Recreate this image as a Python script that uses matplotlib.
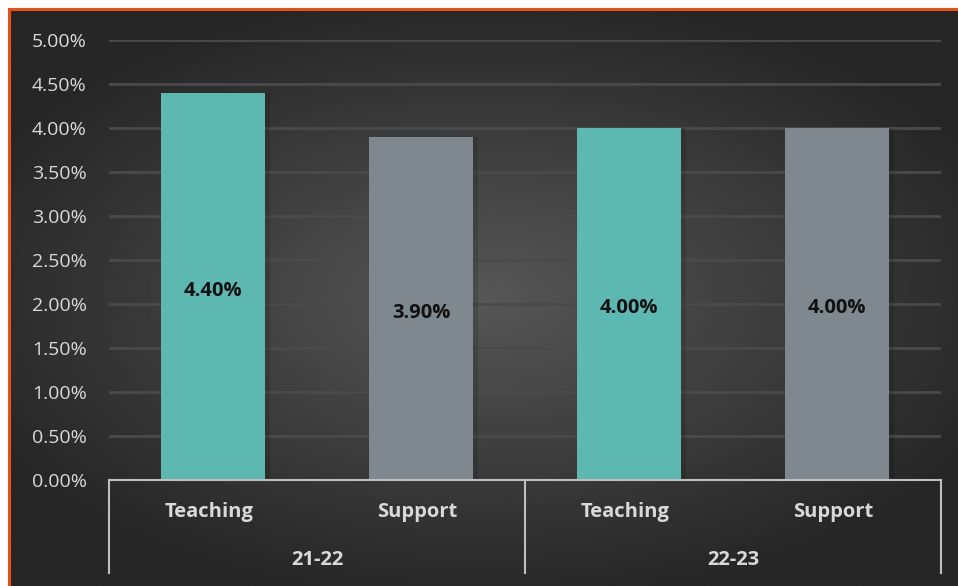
import numpy as np
import matplotlib.pyplot as plt
import matplotlib.transforms as mtransforms
from matplotlib.lines import Line2D

years = ['21-22', '22-23']
staff = ['Teaching', 'Support']
rises = [4.40, 3.90, 4.00, 4.00]   # percent, in year/staff order
bar_colors = ['#5DB8B2', '#7E888E', '#5DB8B2', '#7E888E']

W, H = 958, 586
fig = plt.figure(figsize=(W / 100, H / 100), dpi=100, facecolor='white')

# dark radial backdrop inside the orange frame
bg = fig.add_axes([8 / W, 0, (W - 8) / W, (H - 9) / H])
gx, gy = np.meshgrid(np.linspace(-1, 1, 600), np.linspace(-1, 1, 400))
r = np.sqrt((gx * 0.95) ** 2 + (gy * 1.05) ** 2)
shade = np.clip(0.34 - 0.17 * r, 0.15, 0.34)
bg.imshow(shade, cmap='gray', vmin=0, vmax=1, aspect='auto', extent=[0, 1, 0, 1])
bg.set_axis_off()

# orange frame on the top and left
fig.add_artist(Line2D([8.5 / W, 1], [1 - 8.5 / H, 1 - 8.5 / H], color='#E2531B', lw=2.2))
fig.add_artist(Line2D([8.5 / W, 8.5 / W], [0, 1 - 8.5 / H], color='#E2531B', lw=2.2))

ax = fig.add_axes([109 / W, (H - 480) / H, 832 / W, 440 / H])
ax.set_facecolor('none')
x = np.arange(len(rises))

# soft shadow to the right of each bar
ax.bar(x + 0.025, rises, width=0.5, color='black', alpha=0.12, zorder=2)
ax.bar(x, rises, width=0.5, color=bar_colors, zorder=3)

for xi, v in zip(x, rises):
    ax.annotate(f'{v:.2f}%', (xi, v / 2), xytext=(0, -3), textcoords='offset points',
                ha='center', va='center', fontsize=14.5, fontweight='bold',
                color='#111111', family='Open Sans', zorder=4)

ax.set_xlim(-0.5, len(rises) - 0.5)
ax.set_ylim(0, 5)
ticks = np.arange(0, 5.01, 0.5)
ax.set_yticks(ticks)
ax.set_yticklabels([f'{t:.2f}%' for t in ticks])
ax.tick_params(axis='y', length=0, pad=16, labelsize=14, labelcolor='#D9D9D9')
for lbl in ax.get_yticklabels():
    lbl.set_family('Open Sans')
ax.set_xticks([])
ax.grid(axis='y', color='#4A4A4A', lw=2, zorder=0)
for s in ax.spines.values():
    s.set_visible(False)

# two-level category axis
axis_col = '#BFBFBF'
trans = mtransforms.blended_transform_factory(ax.transData, ax.transAxes)
low = -93 / 440
ax.plot([-0.5, 3.5], [0, 0], transform=trans, color=axis_col, lw=1.5, clip_on=False, zorder=5)
for xb in [-0.5, 1.5, 3.5]:
    ax.plot([xb, xb], [0, low], transform=trans, color=axis_col, lw=1.5, clip_on=False)
for xi in x:
    ax.text(xi - 0.02, -32 / 440, staff[xi % 2], transform=trans, ha='center', va='center',
            fontsize=14.5, fontweight='bold', color='#D9D9D9', family='Open Sans')
for i, yr in enumerate(years):
    ax.text(2 * i + 0.5, -80 / 440, yr, transform=trans, ha='center', va='center',
            fontsize=14.5, fontweight='bold', color='#D9D9D9', family='Open Sans')

fig.savefig('out.png', dpi=100, facecolor='white')
